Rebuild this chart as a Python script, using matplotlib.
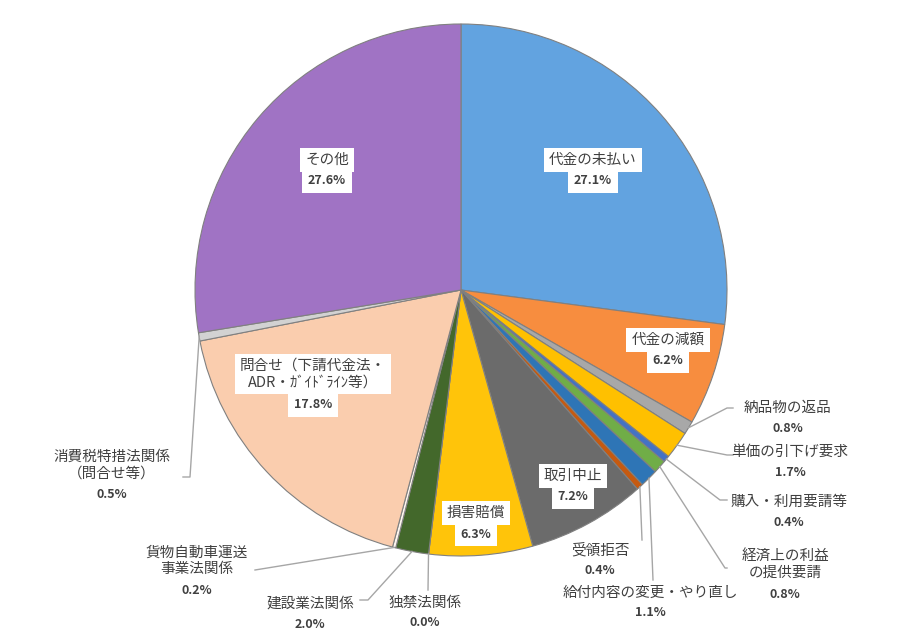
import numpy as np
import matplotlib
matplotlib.use("Agg")
import matplotlib.pyplot as plt

# 相談内容の内訳 (%)
labels = [
    "代金の未払い", "代金の減額", "納品物の返品", "単価の引下げ要求",
    "購入・利用要請等", "経済上の利益\nの提供要請", "給付内容の変更・やり直し",
    "受領拒否", "取引中止", "損害賠償", "独禁法関係", "建設業法関係",
    "貨物自動車運送\n事業法関係", "問合せ（下請代金法・\nADR・ｶﾞｲﾄﾞﾗｲﾝ等）",
    "消費税特措法関係\n（問合せ等）", "その他",
]
values = [27.1, 6.2, 0.8, 1.7, 0.4, 0.8, 1.1, 0.4, 7.2, 6.3, 0.0, 2.0, 0.2, 17.8, 0.5, 27.6]
colors = [
    "#62A3E0", "#F78D3F", "#A8A8A8", "#FFC000", "#4472C4", "#70AD47", "#2E75B6",
    "#C55A11", "#6B6B6B", "#FFC40A", "#5B9BD5", "#43682B", "#FDF6EE", "#FACDAE",
    "#D2D2D2", "#A073C4",
]

plt.rcParams["font.family"] = ["Noto Sans CJK JP", "DejaVu Sans"]

W, H = 900, 640
CX, CY, R = 461, H - 290, 266
TXT = "#404040"
LINE_H = 20


def py(y):
    # 画像座標(上から)をデータ座標へ
    return H - y


fig = plt.figure(figsize=(9, 6.4), dpi=100)
ax = fig.add_axes([0, 0, 1, 1])

wedges, _ = ax.pie(
    values,
    colors=colors,
    startangle=90,
    counterclock=False,
    center=(CX, CY),
    radius=R,
    wedgeprops=dict(edgecolor="#808080", linewidth=0.8),
)
ax.set_xlim(0, W)
ax.set_ylim(0, H)
ax.set_aspect("equal")
ax.axis("off")


def edge_point(i):
    w = wedges[i]
    a = np.deg2rad((w.theta1 + w.theta2) / 2)
    return CX + R * np.cos(a), CY + R * np.sin(a)


def pct(v):
    return f"{v:.1f}%"


# 円の中のラベル (白い箱)
inner = {
    0: (593, 160),
    1: (668, 340),
    8: (573, 476),
    9: (476, 513),
    13: (313, 374),
    15: (327, 160),
}
for i, (x, y) in inner.items():
    nlines = labels[i].count("\n") + 1
    ax.text(x, py(y), labels[i], ha="center", va="center", fontsize=10.5,
            color=TXT, linespacing=1.25,
            bbox=dict(boxstyle="square,pad=0.35", fc="white", ec="none"), zorder=5)
    yp = y + 11 + 10 * nlines
    ax.text(x, py(yp), pct(values[i]), ha="center", va="center", fontsize=9,
            fontweight="bold", color=TXT,
            bbox=dict(boxstyle="square,pad=0.45", fc="white", ec="none"), zorder=4)

# 外側のラベルと引出し線: (折れ点, 線の終点, 1行目の中心)
outer = {
    2: ((727, 408), (733, 408), (788, 408)),
    3: ((727, 455), (733, 455), (790, 452)),
    4: ((720, 500), (727, 500), (789, 502)),
    5: ((725, 568), (727, 568), (785, 554)),
    7: ((642, 540), (642, 540), (600, 550)),
    6: ((653, 580), (653, 580), (650, 593)),
    10: ((428, 590), (428, 590), (425, 603)),
    11: ((368, 600), (360, 600), (310, 604)),
    12: ((255, 570), (255, 570), (197, 551)),
    14: ((190, 477), (183, 477), (112, 455)),
}
for i, (elbow, end, (tx, ty)) in outer.items():
    x0, y0 = edge_point(i)
    xs = [x0, elbow[0], end[0]]
    ys = [y0, py(elbow[1]), py(end[1])]
    ax.plot(xs, ys, color="#a6a6a6", linewidth=1.0, zorder=3)
    nlines = labels[i].count("\n") + 1
    yc = ty + (nlines - 1) * LINE_H / 2
    ax.text(tx, py(yc), labels[i], ha="center", va="center", fontsize=10.5,
            color=TXT, linespacing=1.25, zorder=5)
    yp = ty + LINE_H * nlines
    ax.text(tx, py(yp), pct(values[i]), ha="center", va="center", fontsize=9,
            fontweight="bold", color=TXT, zorder=5)

fig.savefig("out.png", dpi=100, facecolor="white")
